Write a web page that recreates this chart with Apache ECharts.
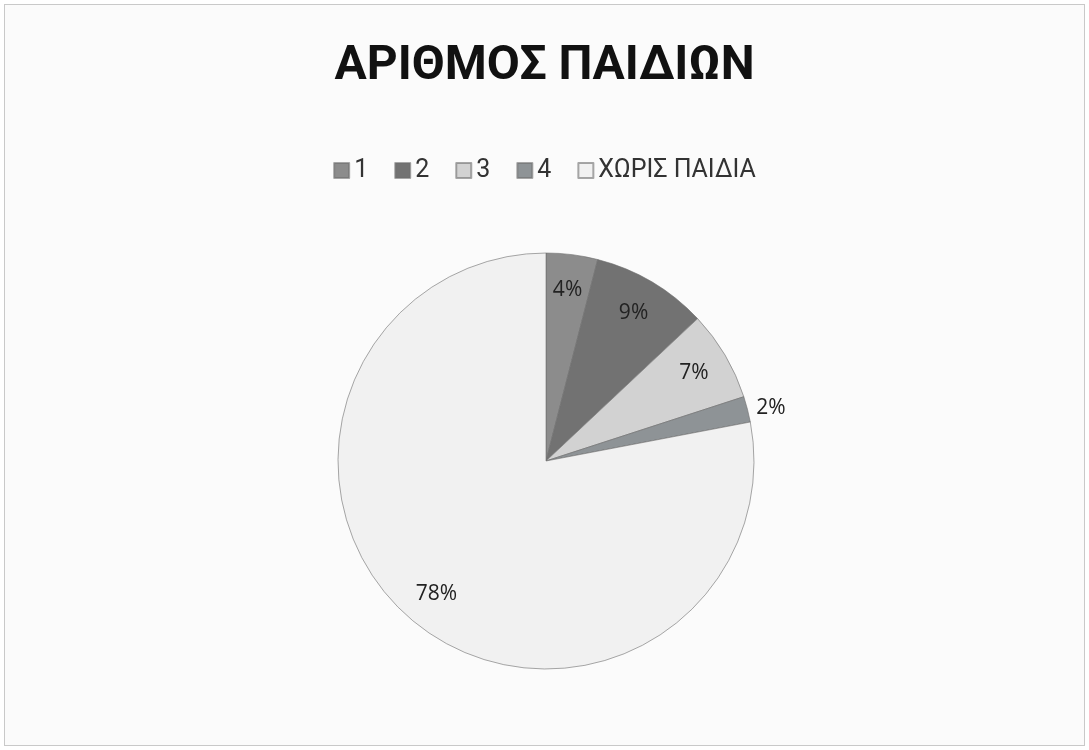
<!DOCTYPE html>
<html>
<head>
<meta charset="utf-8">
<script src="https://cdn.jsdelivr.net/npm/echarts@6/dist/echarts.min.js"></script>
<style>
  html, body { margin: 0; padding: 0; background: #fff; }
  #chart {
    position: absolute; left: 4px; top: 4px;
    width: 1079px; height: 740px;
    border: 1px solid #c9c9c9;
    background: #fbfbfb;
  }
</style>
</head>
<body>
<div id="chart"></div>
<script>
// data
const categories = ["1", "2", "3", "4", "ΧΩΡΙΣ ΠΑΙΔΙΑ"];
const percents = [4, 9, 7, 2, 78];
const sliceColors = ["#8c8c8c", "#727272", "#d2d2d2", "#8e9396", "#f1f1f1"];

const FONT = "Roboto";
const LABEL_FONT = "Open Sans";

const pieData = categories.map((name, i) => ({
  name: name,
  value: percents[i],
  itemStyle: { color: sliceColors[i] }
}));

// labels sit near the rim, so they're drawn by a transparent ring on top
const labelData = categories.map((name, i) => {
  const item = { name: name, value: percents[i] };
  if (percents[i] < 3) {
    item.label = { position: "outside" };
  }
  return item;
});

const chart = echarts.init(document.getElementById("chart"));
chart.setOption({
  animation: false,
  title: {
    text: "ΑΡΙΘΜΟΣ ΠΑΙΔΙΩΝ",
    left: "center",
    top: 33,
    textStyle: { fontFamily: FONT, fontSize: 48, fontWeight: "bold", color: "#111" }
  },
  legend: {
    data: categories,
    top: 148,
    left: "center",
    icon: "rect",
    itemWidth: 15,
    itemHeight: 15,
    itemGap: 26,
    textStyle: { fontFamily: FONT, fontSize: 25, color: "#333" }
  },
  series: [
    {
      type: "pie",
      center: [541, 456],
      radius: 208,
      startAngle: 90,
      clockwise: true,
      label: { show: false },
      labelLine: { show: false },
      itemStyle: { borderColor: "rgba(110,110,110,0.6)", borderWidth: 1 },
      emphasis: { disabled: true },
      data: pieData
    },
    {
      type: "pie",
      center: [541, 456],
      radius: [130, 208],
      startAngle: 90,
      clockwise: true,
      silent: true,
      legendHoverLink: false,
      itemStyle: { color: "rgba(0,0,0,0)" },
      label: {
        show: true,
        position: "inside",
        formatter: "{c}%",
        fontFamily: LABEL_FONT,
        fontSize: 21,
        color: "#222"
      },
      labelLine: { show: false, length: 4, length2: 0 },
      data: labelData
    }
  ]
});
</script>
</body>
</html>
